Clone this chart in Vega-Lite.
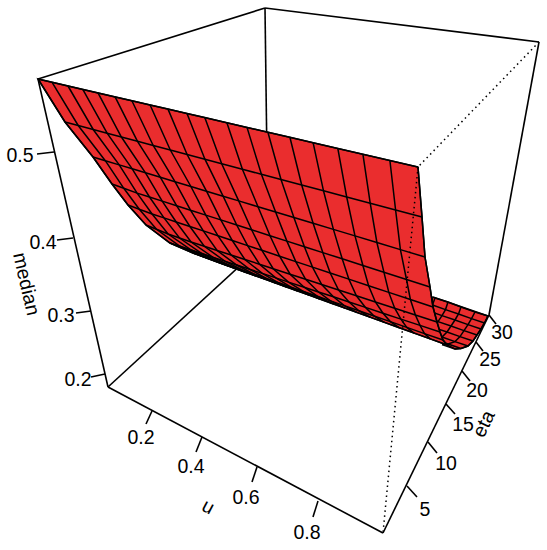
{"$schema":"https://vega.github.io/schema/vega-lite/v6.json","width":547,"height":550,"autosize":{"type":"fit","contains":"padding"},"padding":0,"background":"white","config":{"view":{"stroke":null}},
"datasets":{
"hiddenbox":[{"g":"EH","k":0,"sx":108,"sy":387},{"g":"EH","k":1,"sx":268,"sy":240},{"g":"BH","k":0,"sx":265,"sy":8},{"g":"BH","k":1,"sx":268,"sy":240}],
"box":[{"g":"AB","k":0,"sx":38,"sy":79},{"g":"AB","k":1,"sx":265,"sy":8},{"g":"BC","k":0,"sx":265,"sy":8},{"g":"BC","k":1,"sx":539,"sy":42},{"g":"AE","k":0,"sx":38,"sy":79},{"g":"AE","k":1,"sx":108,"sy":387},{"g":"CG","k":0,"sx":539,"sy":42},{"g":"CG","k":1,"sx":489,"sy":315},{"g":"EF","k":0,"sx":108,"sy":387},{"g":"EF","k":1,"sx":383,"sy":533},{"g":"FG","k":0,"sx":383,"sy":533},{"g":"FG","k":1,"sx":489,"sy":315},
{"g":"z5","k":0,"sx":37,"sy":154},{"g":"z5","k":1,"sx":54,"sy":152},{"g":"z4","k":0,"sx":57,"sy":240},{"g":"z4","k":1,"sx":73,"sy":238},{"g":"z3","k":0,"sx":76,"sy":313},{"g":"z3","k":1,"sx":91,"sy":311},{"g":"z2","k":0,"sx":91,"sy":377},{"g":"z2","k":1,"sx":105,"sy":374},
{"g":"u2","k":0,"sx":146,"sy":424},{"g":"u2","k":1,"sx":152,"sy":411},{"g":"u4","k":0,"sx":196,"sy":452},{"g":"u4","k":1,"sx":202,"sy":437},{"g":"u6","k":0,"sx":252,"sy":482},{"g":"u6","k":1,"sx":257,"sy":467},{"g":"u8","k":0,"sx":313,"sy":517},{"g":"u8","k":1,"sx":318,"sy":501},
{"g":"e5","k":0,"sx":417,"sy":497},{"g":"e5","k":1,"sx":407,"sy":486},{"g":"e10","k":0,"sx":437,"sy":453},{"g":"e10","k":1,"sx":428,"sy":442},{"g":"e15","k":0,"sx":455,"sy":414},{"g":"e15","k":1,"sx":446,"sy":404},{"g":"e20","k":0,"sx":470,"sy":381},{"g":"e20","k":1,"sx":462,"sy":371},{"g":"e25","k":0,"sx":483,"sy":351},{"g":"e25","k":1,"sx":476,"sy":342},{"g":"e30","k":0,"sx":496,"sy":324},{"g":"e30","k":1,"sx":489,"sy":315}],
"dotted":[{"g":"CD","k":0,"sx":539,"sy":42},{"g":"CD","k":1,"sx":418,"sy":167},{"g":"DF","k":0,"sx":418,"sy":167},{"g":"DF","k":1,"sx":383,"sy":533}],
"floorOutline":[{"k":0,"sx":433,"sy":297},{"k":1,"sx":488,"sy":316},{"k":2,"sx":484.5,"sy":323},{"k":3,"sx":481,"sy":329},{"k":4,"sx":477,"sy":335},{"k":5,"sx":473,"sy":341},{"k":6,"sx":468,"sy":346},{"k":7,"sx":461,"sy":348.5},{"k":8,"sx":455,"sy":349},{"k":9,"sx":447,"sy":345},{"k":10,"sx":425,"sy":320}],
"floor":[
{"i":19,"j":0,"sx":488,"sy":316},{"i":18,"j":0,"sx":475,"sy":312},{"i":17,"j":0,"sx":461,"sy":307},{"i":16,"j":0,"sx":448,"sy":302},{"i":15,"j":0,"sx":435,"sy":298},
{"i":19,"j":1,"sx":484.5,"sy":323},{"i":18,"j":1,"sx":471.5,"sy":318.6},{"i":17,"j":1,"sx":458.5,"sy":314},{"i":16,"j":1,"sx":445.5,"sy":309.6},{"i":15,"j":1,"sx":432.5,"sy":305},
{"i":19,"j":2,"sx":481,"sy":329},{"i":18,"j":2,"sx":468,"sy":324.6},{"i":17,"j":2,"sx":455,"sy":320},{"i":16,"j":2,"sx":442,"sy":315.6},{"i":15,"j":2,"sx":429,"sy":311},
{"i":19,"j":3,"sx":477,"sy":335},{"i":18,"j":3,"sx":464,"sy":330.6},{"i":17,"j":3,"sx":451,"sy":326},{"i":16,"j":3,"sx":438,"sy":321.6},{"i":15,"j":3,"sx":425,"sy":317},
{"i":19,"j":4,"sx":473,"sy":341},{"i":18,"j":4,"sx":460,"sy":336.6},{"i":17,"j":4,"sx":447,"sy":332},{"i":16,"j":4,"sx":434,"sy":327.6},{"i":15,"j":4,"sx":421,"sy":323},
{"i":19,"j":5,"sx":468,"sy":346},{"i":18,"j":5,"sx":455,"sy":341.6},{"i":17,"j":5,"sx":442,"sy":337},{"i":16,"j":5,"sx":429,"sy":332.6},
{"i":19,"j":6,"sx":461,"sy":348.5},{"i":18,"j":6,"sx":448,"sy":344},{"i":17,"j":6,"sx":435,"sy":339.5},
{"i":19,"j":7,"sx":455,"sy":349},{"i":18,"j":7,"sx":442,"sy":344.6}],
"sheetOutline":[{"k":0,"sx":38,"sy":79},{"k":1,"sx":418,"sy":167},{"k":2,"sx":422,"sy":217},{"k":3,"sx":425,"sy":257},{"k":4,"sx":430,"sy":287},{"k":5,"sx":433,"sy":307},{"k":6,"sx":437,"sy":322},{"k":7,"sx":440,"sy":332},{"k":8,"sx":443,"sy":340},{"k":9,"sx":447,"sy":345},{"k":10,"sx":220,"sy":263},{"k":11,"sx":193,"sy":253},{"k":12,"sx":170,"sy":243},{"k":13,"sx":146,"sy":225},{"k":14,"sx":128,"sy":205},{"k":15,"sx":112,"sy":184},{"k":16,"sx":93,"sy":157},{"k":17,"sx":65,"sy":122}],
"sheet":[
{"i":0,"j":0,"sx":38,"sy":79},{"i":1,"j":0,"sx":52.1,"sy":82.3},{"i":2,"j":0,"sx":68,"sy":86},{"i":3,"j":0,"sx":82.8,"sy":89.4},{"i":4,"j":0,"sx":98,"sy":92.9},{"i":5,"j":0,"sx":115.1,"sy":96.9},{"i":6,"j":0,"sx":131.9,"sy":100.7},{"i":7,"j":0,"sx":150.1,"sy":105},{"i":8,"j":0,"sx":168,"sy":109.1},{"i":9,"j":0,"sx":187,"sy":113.5},{"i":10,"j":0,"sx":204.8,"sy":117.6},{"i":11,"j":0,"sx":226.9,"sy":122.7},{"i":12,"j":0,"sx":247,"sy":127.4},{"i":13,"j":0,"sx":267.9,"sy":132.2},{"i":14,"j":0,"sx":289.9,"sy":137.3},{"i":15,"j":0,"sx":313.1,"sy":142.7},{"i":16,"j":0,"sx":337.8,"sy":148.4},{"i":17,"j":0,"sx":362.9,"sy":154.2},{"i":18,"j":0,"sx":389.9,"sy":160.5},{"i":19,"j":0,"sx":418,"sy":167},
{"i":0,"j":1,"sx":65,"sy":122},{"i":1,"j":1,"sx":78.2,"sy":125.5},{"i":2,"j":1,"sx":93.2,"sy":129.5},{"i":3,"j":1,"sx":107.1,"sy":133.2},{"i":4,"j":1,"sx":121.4,"sy":137},{"i":5,"j":1,"sx":137.5,"sy":141.3},{"i":6,"j":1,"sx":153.2,"sy":145.5},{"i":7,"j":1,"sx":170.3,"sy":150},{"i":8,"j":1,"sx":187.1,"sy":154.5},{"i":9,"j":1,"sx":204.9,"sy":159.2},{"i":10,"j":1,"sx":221.7,"sy":163.7},{"i":11,"j":1,"sx":242.4,"sy":169.2},{"i":12,"j":1,"sx":261.4,"sy":174.3},{"i":13,"j":1,"sx":281,"sy":179.5},{"i":14,"j":1,"sx":301.7,"sy":185},{"i":15,"j":1,"sx":323.5,"sy":190.8},{"i":16,"j":1,"sx":346.7,"sy":197},{"i":17,"j":1,"sx":370.2,"sy":203.2},{"i":18,"j":1,"sx":395.6,"sy":210},{"i":19,"j":1,"sx":422,"sy":217},
{"i":0,"j":2,"sx":93,"sy":157},{"i":1,"j":2,"sx":105.3,"sy":160.7},{"i":2,"j":2,"sx":119.2,"sy":164.9},{"i":3,"j":2,"sx":132.2,"sy":168.8},{"i":4,"j":2,"sx":145.5,"sy":172.8},{"i":5,"j":2,"sx":160.4,"sy":177.3},{"i":6,"j":2,"sx":175,"sy":181.7},{"i":7,"j":2,"sx":190.9,"sy":186.5},{"i":8,"j":2,"sx":206.5,"sy":191.2},{"i":9,"j":2,"sx":223.1,"sy":196.2},{"i":10,"j":2,"sx":238.7,"sy":200.9},{"i":11,"j":2,"sx":258,"sy":206.7},{"i":12,"j":2,"sx":275.6,"sy":212},{"i":13,"j":2,"sx":293.9,"sy":217.5},{"i":14,"j":2,"sx":313.1,"sy":223.3},{"i":15,"j":2,"sx":333.4,"sy":229.4},{"i":16,"j":2,"sx":355,"sy":235.9},{"i":17,"j":2,"sx":376.9,"sy":242.5},{"i":18,"j":2,"sx":400.4,"sy":249.6},{"i":19,"j":2,"sx":425,"sy":257},
{"i":0,"j":3,"sx":112,"sy":184},{"i":1,"j":3,"sx":123.8,"sy":188.3},{"i":2,"j":3,"sx":137.1,"sy":193.1},{"i":3,"j":3,"sx":149.5,"sy":197},{"i":4,"j":3,"sx":162.2,"sy":201.1},{"i":5,"j":3,"sx":176.6,"sy":205.7},{"i":6,"j":3,"sx":190.5,"sy":210.2},{"i":7,"j":3,"sx":205.8,"sy":215.1},{"i":8,"j":3,"sx":220.8,"sy":219.9},{"i":9,"j":3,"sx":236.7,"sy":225},{"i":10,"j":3,"sx":251.6,"sy":229.8},{"i":11,"j":3,"sx":270,"sy":235.7},{"i":12,"j":3,"sx":286.9,"sy":241.1},{"i":13,"j":3,"sx":304.4,"sy":246.7},{"i":14,"j":3,"sx":322.8,"sy":252.6},{"i":15,"j":3,"sx":342.2,"sy":258.8},{"i":16,"j":3,"sx":362.9,"sy":265.5},{"i":17,"j":3,"sx":383.9,"sy":272.2},{"i":18,"j":3,"sx":406.5,"sy":279.5},{"i":19,"j":3,"sx":430,"sy":287},
{"i":0,"j":4,"sx":128,"sy":205},{"i":1,"j":4,"sx":139.3,"sy":209.2},{"i":2,"j":4,"sx":152.1,"sy":214},{"i":3,"j":4,"sx":164,"sy":217.9},{"i":4,"j":4,"sx":176.2,"sy":222},{"i":5,"j":4,"sx":189.9,"sy":226.5},{"i":6,"j":4,"sx":203.3,"sy":230.9},{"i":7,"j":4,"sx":218,"sy":235.8},{"i":8,"j":4,"sx":232.3,"sy":240.5},{"i":9,"j":4,"sx":247.6,"sy":245.6},{"i":10,"j":4,"sx":261.9,"sy":250.3},{"i":11,"j":4,"sx":279.6,"sy":256.2},{"i":12,"j":4,"sx":295.8,"sy":261.6},{"i":13,"j":4,"sx":312.5,"sy":267.1},{"i":14,"j":4,"sx":330.2,"sy":273},{"i":15,"j":4,"sx":348.8,"sy":279.1},{"i":16,"j":4,"sx":368.6,"sy":285.7},{"i":17,"j":4,"sx":388.8,"sy":292.4},{"i":18,"j":4,"sx":410.4,"sy":299.5},{"i":19,"j":4,"sx":433,"sy":307},
{"i":0,"j":5,"sx":146,"sy":225},{"i":1,"j":5,"sx":156.5,"sy":229.3},{"i":2,"j":5,"sx":168.1,"sy":234},{"i":3,"j":5,"sx":179.5,"sy":238},{"i":4,"j":5,"sx":191.1,"sy":242},{"i":5,"j":5,"sx":204.3,"sy":246.3},{"i":6,"j":5,"sx":217.1,"sy":250.5},{"i":7,"j":5,"sx":231.1,"sy":255},{"i":8,"j":5,"sx":244.9,"sy":259.5},{"i":9,"j":5,"sx":259.5,"sy":264.2},{"i":10,"j":5,"sx":273.2,"sy":268.7},{"i":11,"j":5,"sx":290.1,"sy":274.2},{"i":12,"j":5,"sx":305.6,"sy":279.3},{"i":13,"j":5,"sx":321.7,"sy":284.5},{"i":14,"j":5,"sx":338.6,"sy":290},{"i":15,"j":5,"sx":356.4,"sy":295.8},{"i":16,"j":5,"sx":375.4,"sy":302},{"i":17,"j":5,"sx":394.7,"sy":308.2},{"i":18,"j":5,"sx":415.4,"sy":315},{"i":19,"j":5,"sx":437,"sy":322},
{"i":0,"j":6,"sx":170,"sy":243},{"i":1,"j":6,"sx":180,"sy":246.3},{"i":2,"j":6,"sx":191.3,"sy":250},{"i":3,"j":6,"sx":201.9,"sy":253.5},{"i":4,"j":6,"sx":212.7,"sy":257.1},{"i":5,"j":6,"sx":224.8,"sy":261.1},{"i":6,"j":6,"sx":236.7,"sy":265},{"i":7,"j":6,"sx":249.7,"sy":269.3},{"i":8,"j":6,"sx":262.3,"sy":273.4},{"i":9,"j":6,"sx":275.8,"sy":277.9},{"i":10,"j":6,"sx":288.5,"sy":282.1},{"i":11,"j":6,"sx":304.2,"sy":287.2},{"i":12,"j":6,"sx":318.5,"sy":292},{"i":13,"j":6,"sx":333.4,"sy":296.8},{"i":14,"j":6,"sx":349,"sy":302},{"i":15,"j":6,"sx":365.5,"sy":307.4},{"i":16,"j":6,"sx":383,"sy":313.2},{"i":17,"j":6,"sx":400.9,"sy":319.1},{"i":18,"j":6,"sx":420,"sy":325.4},{"i":19,"j":6,"sx":440,"sy":332},
{"i":0,"j":7,"sx":193,"sy":253},{"i":1,"j":7,"sx":202.3,"sy":256.2},{"i":2,"j":7,"sx":212.8,"sy":259.9},{"i":3,"j":7,"sx":222.5,"sy":263.3},{"i":4,"j":7,"sx":232.5,"sy":266.7},{"i":5,"j":7,"sx":243.8,"sy":270.7},{"i":6,"j":7,"sx":254.8,"sy":274.5},{"i":7,"j":7,"sx":266.8,"sy":278.7},{"i":8,"j":7,"sx":278.5,"sy":282.8},{"i":9,"j":7,"sx":291,"sy":287.1},{"i":10,"j":7,"sx":302.8,"sy":291.2},{"i":11,"j":7,"sx":317.3,"sy":296.2},{"i":12,"j":7,"sx":330.5,"sy":300.9},{"i":13,"j":7,"sx":344.3,"sy":305.6},{"i":14,"j":7,"sx":358.8,"sy":310.7},{"i":15,"j":7,"sx":374,"sy":316},{"i":16,"j":7,"sx":390.3,"sy":321.6},{"i":17,"j":7,"sx":406.8,"sy":327.4},{"i":18,"j":7,"sx":424.5,"sy":333.6},{"i":19,"j":7,"sx":443,"sy":340},
{"i":0,"j":8,"sx":220,"sy":263},{"i":1,"j":8,"sx":228.4,"sy":266},{"i":2,"j":8,"sx":237.9,"sy":269.5},{"i":3,"j":8,"sx":246.8,"sy":272.7},{"i":4,"j":8,"sx":255.9,"sy":276},{"i":5,"j":8,"sx":266.1,"sy":279.6},{"i":6,"j":8,"sx":276.1,"sy":283.3},{"i":7,"j":8,"sx":287,"sy":287.2},{"i":8,"j":8,"sx":297.6,"sy":291},{"i":9,"j":8,"sx":309,"sy":295.1},{"i":10,"j":8,"sx":319.7,"sy":299},{"i":11,"j":8,"sx":332.8,"sy":303.8},{"i":12,"j":8,"sx":344.9,"sy":308.1},{"i":13,"j":8,"sx":357.3,"sy":312.6},{"i":14,"j":8,"sx":370.5,"sy":317.4},{"i":15,"j":8,"sx":384.3,"sy":322.4},{"i":16,"j":8,"sx":399.1,"sy":327.7},{"i":17,"j":8,"sx":414.1,"sy":333.1},{"i":18,"j":8,"sx":430.2,"sy":338.9},{"i":19,"j":8,"sx":447,"sy":345}],
"ticklabels":[{"label":"0.5","sx":20,"sy":156},{"label":"0.4","sx":43,"sy":243},{"label":"0.3","sx":61,"sy":316},{"label":"0.2","sx":78,"sy":380},{"label":"0.2","sx":141,"sy":438},{"label":"0.4","sx":191,"sy":467},{"label":"0.6","sx":246,"sy":498},{"label":"0.8","sx":307,"sy":533},{"label":"5","sx":425,"sy":510},{"label":"10","sx":446,"sy":464},{"label":"15","sx":463,"sy":425},{"label":"20","sx":477,"sy":391},{"label":"25","sx":490,"sy":360},{"label":"30","sx":502,"sy":333}]
},
"encoding":{"x":{"field":"sx","type":"quantitative","scale":{"domain":[0,547],"nice":false,"zero":false},"axis":null},"y":{"field":"sy","type":"quantitative","scale":{"domain":[550,0],"nice":false,"zero":false},"axis":null}},
"layer":[
{"data":{"name":"hiddenbox"},"mark":{"type":"line","stroke":"black","strokeWidth":1.6},"encoding":{"detail":{"field":"g"},"order":{"field":"k"}}},
{"data":{"name":"floorOutline"},"mark":{"type":"line","fill":"#EA2D2E","stroke":"black","strokeWidth":1.5,"interpolate":"linear-closed"},"encoding":{"order":{"field":"k"}}},
{"data":{"name":"floor"},"mark":{"type":"line","stroke":"black","strokeWidth":1.5},"encoding":{"detail":{"field":"j"},"order":{"field":"i"}}},
{"data":{"name":"floor"},"mark":{"type":"line","stroke":"black","strokeWidth":1.5},"encoding":{"detail":{"field":"i"},"order":{"field":"j"}}},
{"data":{"name":"sheetOutline"},"mark":{"type":"line","fill":"#EA2D2E","stroke":"black","strokeWidth":1.5,"interpolate":"linear-closed"},"encoding":{"order":{"field":"k"}}},
{"data":{"name":"sheet"},"mark":{"type":"line","stroke":"black","strokeWidth":1.5},"encoding":{"detail":{"field":"j"},"order":{"field":"i"}}},
{"data":{"name":"sheet"},"mark":{"type":"line","stroke":"black","strokeWidth":1.5},"encoding":{"detail":{"field":"i"},"order":{"field":"j"}}},
{"data":{"name":"dotted"},"mark":{"type":"line","stroke":"black","strokeWidth":1.5,"strokeDash":[1.5,3.5]},"encoding":{"detail":{"field":"g"},"order":{"field":"k"}}},
{"data":{"name":"box"},"mark":{"type":"line","stroke":"black","strokeWidth":1.6},"encoding":{"detail":{"field":"g"},"order":{"field":"k"}}},
{"data":{"name":"ticklabels"},"mark":{"type":"text","font":"Liberation Sans","fontSize":19.5,"align":"center","baseline":"middle","color":"black"},"encoding":{"text":{"field":"label"}}},
{"data":{"values":[{"label":"median","sx":26,"sy":284}]},"mark":{"type":"text","font":"Liberation Sans","fontSize":19.5,"angle":77,"align":"center","baseline":"middle","color":"black"},"encoding":{"text":{"field":"label"}}},
{"data":{"values":[{"label":"u","sx":208,"sy":507}]},"mark":{"type":"text","font":"Liberation Sans","fontSize":19.5,"angle":28,"align":"center","baseline":"middle","color":"black"},"encoding":{"text":{"field":"label"}}},
{"data":{"values":[{"label":"eta","sx":484,"sy":424}]},"mark":{"type":"text","font":"Liberation Sans","fontSize":19.5,"angle":-64,"align":"center","baseline":"middle","color":"black"},"encoding":{"text":{"field":"label"}}}
]}
